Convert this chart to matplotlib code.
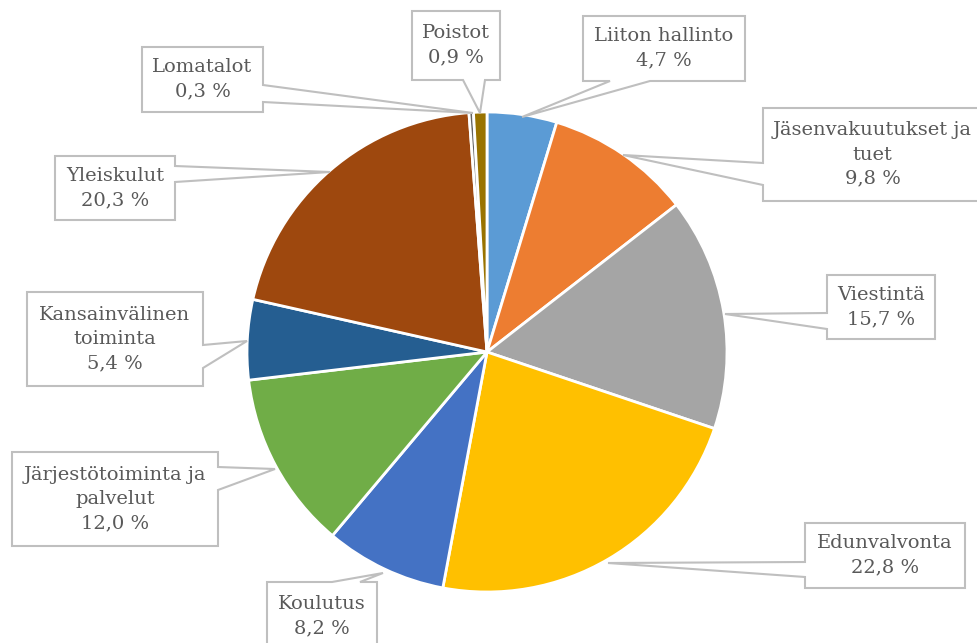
"""Kululajien osuudet: piirakkakaavio, jossa Excel-tyyliset puhekuplaselitteet."""
import matplotlib
matplotlib.use('Agg')
import matplotlib.pyplot as plt
from matplotlib.patches import Polygon

# Data
categories = ['Liiton hallinto', 'Jäsenvakuutukset ja\ntuet', 'Viestintä',
              'Edunvalvonta', 'Koulutus', 'Järjestötoiminta ja\npalvelut',
              'Kansainvälinen\ntoiminta', 'Yleiskulut', 'Lomatalot', 'Poistot']
shares = [4.7, 9.8, 15.7, 22.8, 8.2, 12.0, 5.4, 20.3, 0.3, 0.9]
colors = ['#5B9BD5', '#ED7D31', '#A5A5A5', '#FFC000', '#4472C4',
          '#70AD47', '#255E91', '#9E480E', '#636363', '#997300']

W, H = 978, 643
CENTER = (487, 352)
RADIUS = 240

# Callout layout in pixel coords (y down):
# box (x0, y0, x1, y1), side of pointer, pointer base (b0, b1), apex
CALLOUTS = [
    ((583, 16, 745, 81), 'bottom', (610, 650), (522, 117)),
    ((763, 108, 990, 201), 'left', (163, 185), (623, 155)),
    ((827, 275, 935, 339), 'left', (313, 329), (725, 314)),
    ((805, 523, 965, 588), 'left', (562, 577), (608, 563)),
    ((267, 582, 377, 660), 'top', (332, 360), (383, 573)),
    ((12, 452, 218, 546), 'right', (467, 490), (275, 469)),
    ((27, 292, 203, 386), 'right', (345, 368), (247, 341)),
    ((55, 156, 175, 220), 'right', (166, 182), (330, 172)),
    ((142, 47, 263, 112), 'right', (85, 102), (473, 113)),
    ((412, 11, 500, 80), 'bottom', (463, 485), (480, 113)),
]


def callout_points(box, side, base, apex):
    x0, y0, x1, y1 = box
    b0, b1 = base
    pts = [(x0, y0)]
    if side == 'top':
        pts += [(b0, y0), apex, (b1, y0)]
    pts.append((x1, y0))
    if side == 'right':
        pts += [(x1, b0), apex, (x1, b1)]
    pts.append((x1, y1))
    if side == 'bottom':
        pts += [(b1, y1), apex, (b0, y1)]
    pts.append((x0, y1))
    if side == 'left':
        pts += [(x0, b1), apex, (x0, b0)]
    return pts


fig = plt.figure(figsize=(9.78, 6.43), dpi=100)
ax = fig.add_axes([0, 0, 1, 1])

# y axis is inverted below, so counterclockwise in data = clockwise on screen
ax.pie(shares, colors=colors, startangle=-90, counterclock=True,
       center=CENTER, radius=RADIUS,
       wedgeprops=dict(edgecolor='white', linewidth=2))

for name, val, (box, side, base, apex) in zip(categories, shares, CALLOUTS):
    ax.add_patch(Polygon(callout_points(box, side, base, apex), closed=True,
                         facecolor='white', edgecolor='#BFBFBF', lw=1.5,
                         zorder=3))
    x0, y0, x1, y1 = box
    cy = (y0 + y1) / 2 if y1 <= H else (y0 + 643) / 2 + 4
    cx = (x0 + min(x1, 978)) / 2 if x1 <= W else (x0 + 978) / 2 + 2
    txt = f'{name}\n{val:.1f} %'.replace('.', ',')
    ax.text(cx, cy, txt, ha='center', va='center', fontsize=14,
            family='DejaVu Serif', color='#595959', linespacing=1.45,
            zorder=4)

ax.set_xlim(0, W)
ax.set_ylim(H, 0)
ax.set_aspect('equal')
ax.axis('off')

fig.savefig('out.png', dpi=100)
